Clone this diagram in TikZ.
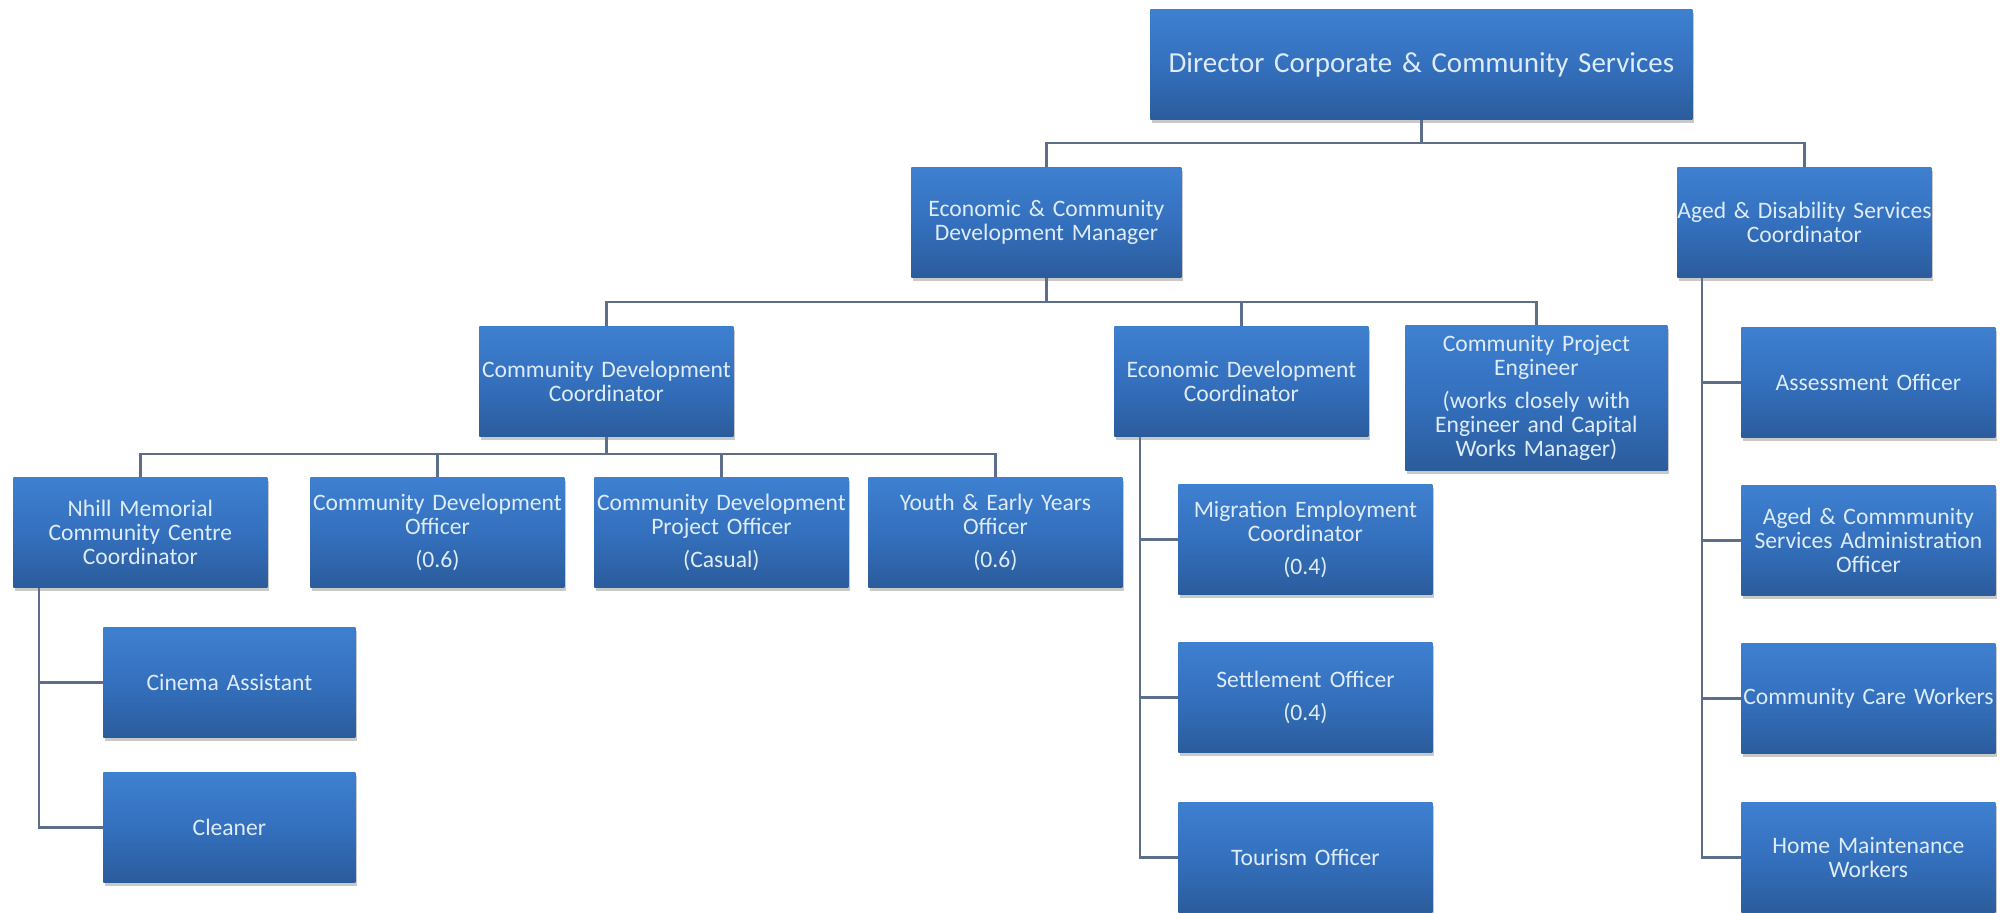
\documentclass[tikz,border=0pt]{standalone}
\usepackage{fontspec}
\setmainfont{Carlito}
\usetikzlibrary{shadows}
\definecolor{boxtop}{RGB}{62,128,208}
\definecolor{boxmid}{RGB}{52,112,190}
\definecolor{boxbot}{RGB}{43,92,156}
\definecolor{boxtext}{RGB}{222,236,250}
\definecolor{linecol}{RGB}{92,110,138}
\tikzset{
  orgbox/.style={anchor=north west, rectangle, inner xsep=0pt, inner ysep=0pt,
    top color=boxtop, bottom color=boxbot, middle color=boxmid,
    draw=none, text=boxtext, align=center,
    minimum width=127pt, text width=127pt, minimum height=55pt,
    font=\fontsize{11.8}{12.2}\selectfont,
    drop shadow={shadow xshift=0.8pt, shadow yshift=-1.6pt, opacity=0.3, fill=black!70}},
  conn/.style={draw=linecol, line width=1.1pt, line join=miter}
}
\newcommand{\gap}{\\[4pt]}
\begin{document}
\begin{tikzpicture}[x=0.5pt,y=-0.5pt]
\useasboundingbox (0,0) rectangle (2010,912);
% level 0
\node[orgbox, minimum width=271pt, text width=271pt, font=\fontsize{14.5}{16}\selectfont] (dir) at (1150,9) {Director Corporate \& Community Services};
% level 1
\node[orgbox, minimum width=135pt, text width=135pt] (mgr) at (911,167) {Economic \& Community\\Development Manager};
\node[orgbox] (aged) at (1677,167) {Aged \& Disability Services\\Coordinator};
% level 2
\node[orgbox] (cdc) at (479,326) {Community Development\\Coordinator};
\node[orgbox] (edc) at (1114,326) {Economic Development\\Coordinator};
\node[orgbox, minimum width=131pt, text width=131pt, minimum height=72.5pt] (cpe) at (1405,325) {Community Project\\Engineer\gap (works closely with\\Engineer and Capital\\Works Manager)};
% level 3
\node[orgbox] (nhill) at (13,477) {Nhill Memorial\\Community Centre\\Coordinator};
\node[orgbox] (cdo) at (310,477) {Community Development\\Officer\gap (0.6)};
\node[orgbox] (cdpo) at (594,477) {Community Development\\Project Officer\gap (Casual)};
\node[orgbox] (youth) at (868,477) {Youth \& Early Years\\Officer\gap (0.6)};
% nhill children
\node[orgbox, minimum width=126pt, text width=126pt] (cin) at (103,627) {Cinema Assistant};
\node[orgbox, minimum width=126pt, text width=126pt] (cln) at (103,772) {Cleaner};
% edc children
\node[orgbox] (mig) at (1178,484) {Migration Employment\\Coordinator\gap (0.4)};
\node[orgbox] (set) at (1178,642) {Settlement\hspace{0.35em}Officer\gap (0.4)};
\node[orgbox] (tour) at (1178,802) {Tourism Officer};
% aged children
\node[orgbox] (ass) at (1741,327) {Assessment Officer};
\node[orgbox] (adm) at (1741,485) {Aged \& Commmunity\\Services Administration\\Officer};
\node[orgbox] (ccw) at (1741,643) {Community Care Workers};
\node[orgbox] (home) at (1741,802) {Home Maintenance\\Workers};
% connectors
\draw[conn] (dir.south) -- ++(0,23) -| (mgr.north);
\draw[conn] (dir.south) -- ++(0,23) -| (aged.north);
\draw[conn] (mgr.south) -- ++(0,24) -| (cdc.north);
\draw[conn] (mgr.south) -- ++(0,24) -| (edc.north);
\draw[conn] (mgr.south) -- ++(0,24) -| (cpe.north);
\draw[conn] (cdc.south) -- ++(0,17) -| (nhill.north);
\draw[conn] (cdc.south) -- ++(0,17) -| (cdo.north);
\draw[conn] (cdc.south) -- ++(0,17) -| (cdpo.north);
\draw[conn] (cdc.south) -- ++(0,17) -| (youth.north);
\draw[conn] ([xshift=13pt]nhill.south west) |- (cin.west);
\draw[conn] ([xshift=13pt]nhill.south west) |- (cln.west);
\draw[conn] ([xshift=13pt]edc.south west) |- (mig.west);
\draw[conn] ([xshift=13pt]edc.south west) |- (set.west);
\draw[conn] ([xshift=13pt]edc.south west) |- (tour.west);
\draw[conn] ([xshift=12.5pt]aged.south west) |- (ass.west);
\draw[conn] ([xshift=12.5pt]aged.south west) |- (adm.west);
\draw[conn] ([xshift=12.5pt]aged.south west) |- (ccw.west);
\draw[conn] ([xshift=12.5pt]aged.south west) |- (home.west);
\end{tikzpicture}
\end{document}
